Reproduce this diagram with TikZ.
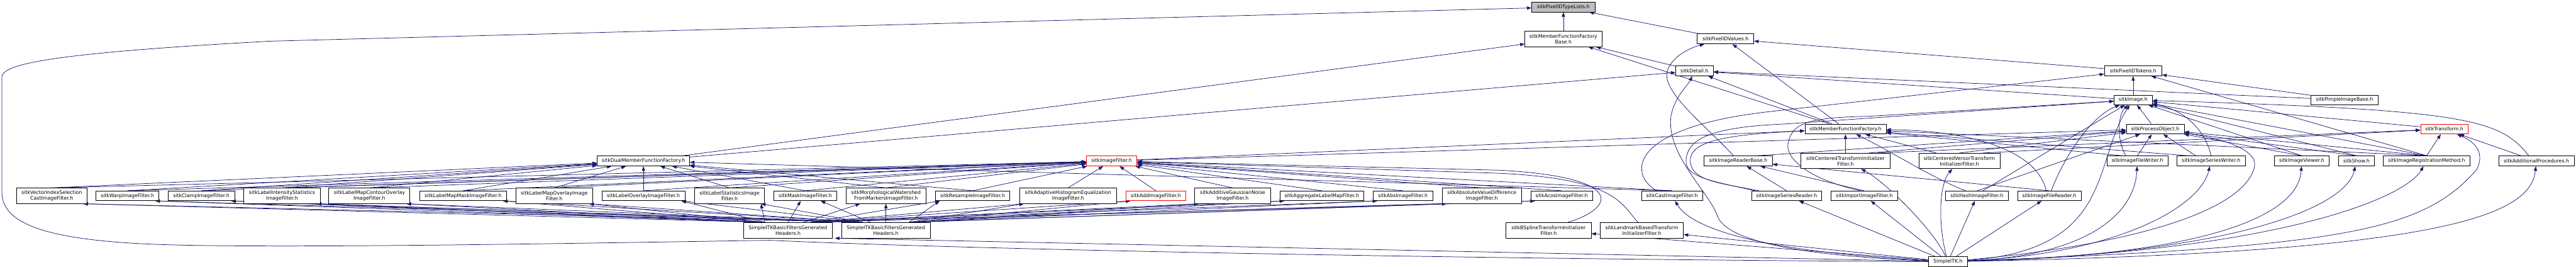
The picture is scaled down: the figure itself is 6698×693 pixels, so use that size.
\documentclass[tikz,border=0pt]{standalone}
\usepackage{fontspec}
\setmainfont{DejaVu Sans}
\usetikzlibrary{arrows.meta}
\definecolor{eblue}{HTML}{191970}
\definecolor{rootgray}{HTML}{BFBFBF}
\pgfdeclarelayer{bg}
\pgfsetlayers{bg,main}
\begin{document}
\begin{tikzpicture}[x=1bp,y=-1bp,
  nb/.style={draw=black,fill=white,rectangle,inner sep=0pt,align=center,line width=1.3bp,font=\fontsize{12.8bp}{14.8bp}\selectfont},
  rd/.style={draw=red},
  rt/.style={fill=rootgray},
  e/.style={draw=eblue,line width=1.2bp,-{Triangle[length=12bp,width=8.5bp]}}]
\useasboundingbox (0,0) rectangle (6698,693);
% rank 0-4
\node[nb,rt,minimum width=164bp,minimum height=25bp] (A1) at (4065,18.5) {sitkPixelIDTypeLists.h};
\node[nb,minimum width=200bp,minimum height=40bp] (B1) at (4065,101) {sitkMemberFunctionFactory\\Base.h};
\node[nb,minimum width=147bp,minimum height=26bp] (B2) at (4486.5,101) {sitkPixelIDValues.h};
\node[nb,minimum width=98bp,minimum height=26bp] (C1) at (4406,184) {sitkDetail.h};
\node[nb,minimum width=149bp,minimum height=26bp] (C2) at (5546.5,184) {sitkPixelIDTokens.h};
\node[nb,minimum width=99bp,minimum height=25bp] (D1) at (5546.5,259.5) {sitkImage.h};
\node[nb,minimum width=176bp,minimum height=25bp] (D2) at (6096,259.5) {sitkPimpleImageBase.h};
\node[nb,minimum width=211bp,minimum height=26bp] (E1) at (4798.5,335) {sitkMemberFunctionFactory.h};
\node[nb,minimum width=150bp,minimum height=26bp] (E2) at (5604,335) {sitkProcessObject.h};
\node[nb,rd,minimum width=123bp,minimum height=26bp] (E3) at (6355.5,335) {sitkTransform.h};
% rank 5
\node[nb,minimum width=240bp,minimum height=26bp] (F1) at (1673,418) {sitkDualMemberFunctionFactory.h};
\node[nb,rd,minimum width=131bp,minimum height=26bp] (F2) at (2890.5,418) {sitkImageFilter.h};
\node[nb,minimum width=177bp,minimum height=26bp] (F3) at (4519.5,418) {sitkImageReaderBase.h};
\node[nb,minimum width=231bp,minimum height=40bp] (F4) at (4798.5,418) {sitkCenteredTransformInitializer\\Filter.h};
\node[nb,minimum width=211bp,minimum height=40bp] (F5) at (5094.5,418) {sitkCenteredVersorTransform\\InitializerFilter.h};
\node[nb,minimum width=159bp,minimum height=26bp] (F6) at (5557.5,418) {sitkImageFileWriter.h};
\node[nb,minimum width=178bp,minimum height=26bp] (F7) at (5749,418) {sitkImageSeriesWriter.h};
\node[nb,minimum width=142bp,minimum height=26bp] (F8) at (5985,418) {sitkImageViewer.h};
\node[nb,minimum width=92bp,minimum height=26bp] (F9) at (6127,418) {sitkShow.h};
\node[nb,minimum width=225bp,minimum height=26bp] (F10) at (6309.5,418) {sitkImageRegistrationMethod.h};
\node[nb,minimum width=196bp,minimum height=26bp] (F11) at (6595,418) {sitkAdditionalProcedures.h};
% rank 6
\node[nb,minimum width=183bp,minimum height=40bp] (G1) at (134.5,508.5) {sitkVectorIndexSelection\\CastImageFilter.h};
\node[nb,minimum width=163bp,minimum height=25bp] (G2) at (331.5,508.5) {sitkWarpImageFilter.h};
\node[nb,minimum width=173bp,minimum height=25bp] (G3) at (523.5,508.5) {sitkClampImageFilter.h};
\node[nb,minimum width=199bp,minimum height=40bp] (G4) at (733.5,508.5) {sitkLabelIntensityStatistics\\ImageFilter.h};
\node[nb,minimum width=211bp,minimum height=40bp] (G5) at (960.5,508.5) {sitkLabelMapContourOverlay\\ImageFilter.h};
\node[nb,minimum width=226bp,minimum height=25bp] (G6) at (1204,508.5) {sitkLabelMapMaskImageFilter.h};
\node[nb,minimum width=200bp,minimum height=40bp] (G7) at (1441,508.5) {sitkLabelMapOverlayImage\\Filter.h};
\node[nb,minimum width=216bp,minimum height=25bp] (G8) at (1673,508.5) {sitkLabelOverlayImageFilter.h};
\node[nb,minimum width=182bp,minimum height=40bp] (G9) at (1897,508.5) {sitkLabelStatisticsImage\\Filter.h};
\node[nb,minimum width=164bp,minimum height=25bp] (G10) at (2094,508.5) {sitkMaskImageFilter.h};
\node[nb,minimum width=207bp,minimum height=40bp] (G11) at (2303.5,508.5) {sitkMorphologicalWatershed\\FromMarkersImageFilter.h};
\node[nb,minimum width=194bp,minimum height=25bp] (G12) at (2529,508.5) {sitkResampleImageFilter.h};
\node[nb,minimum width=252bp,minimum height=40bp] (G13) at (2777,508.5) {sitkAdaptiveHistogramEqualization\\ImageFilter.h};
\node[nb,rd,minimum width=155bp,minimum height=25bp] (G14) at (3005.5,508.5) {sitkAddImageFilter.h};
\node[nb,minimum width=198bp,minimum height=40bp] (G15) at (3205,508.5) {sitkAdditiveGaussianNoise\\ImageFilter.h};
\node[nb,minimum width=218bp,minimum height=25bp] (G16) at (3437,508.5) {sitkAggregateLabelMapFilter.h};
\node[nb,minimum width=155bp,minimum height=25bp] (G17) at (3647.5,508.5) {sitkAbsImageFilter.h};
\node[nb,minimum width=206bp,minimum height=40bp] (G18) at (3853,508.5) {sitkAbsoluteValueDifference\\ImageFilter.h};
\node[nb,minimum width=161bp,minimum height=25bp] (G19) at (4060.5,508.5) {sitkAcosImageFilter.h};
\node[nb,minimum width=159bp,minimum height=25bp] (G20) at (4347.5,508.5) {sitkCastImageFilter.h};
\node[nb,minimum width=183bp,minimum height=25bp] (G21) at (4645.5,508.5) {sitkImageSeriesReader.h};
\node[nb,minimum width=173bp,minimum height=25bp] (G22) at (4847.5,508.5) {sitkImportImageFilter.h};
\node[nb,minimum width=163bp,minimum height=25bp] (G23) at (5140.5,508.5) {sitkHashImageFilter.h};
\node[nb,minimum width=165bp,minimum height=25bp] (G24) at (5328.5,508.5) {sitkImageFileReader.h};
% rank 7
\node[nb,minimum width=230bp,minimum height=40bp] (H1) at (2049,598) {SimpleITKBasicFiltersGenerated\\Headers.h};
\node[nb,minimum width=231bp,minimum height=40bp] (H2) at (2303.5,598) {SimpleITKBasicFiltersGenerated\\Headers.h};
\node[nb,minimum width=221bp,minimum height=40bp] (H3) at (4026.5,598) {sitkBSplineTransformInitializer\\Filter.h};
\node[nb,minimum width=216bp,minimum height=40bp] (H4) at (4269,598) {sitkLandmarkBasedTransform\\InitializerFilter.h};
% rank 8
\node[nb,minimum width=100bp,minimum height=25bp] (I1) at (5065,679.5) {SimpleITK.h};

\begin{pgfonlayer}{bg}
\fill[white] (0,0) rectangle (6698,693);
% ranks 1-4
\draw[e] (B1) -- (A1);
\draw[e] (B2) -- (A1);
\draw[e] (C1) -- (B1);
\draw[e] (C2) -- (B2);
\draw[e] (D1) -- (C2);
\draw[e] (D1) -- (C1);
\draw[e] (D2) -- (C1);
\draw[e] (D2) -- (C2);
\draw[e] (E1) -- (B1);
\draw[e] (E1) -- (B2);
\draw[e] (E1) -- (C1);
\draw[e] (E2) -- (D1);
\draw[e] (E3) -- (D1);
% rank 5
\draw[e] (F1) -- (B1);
\draw[e] (F1) -- (C1);
\draw[e] (F2) -- (E1);
\draw[e] (F2) -- (E2);
\draw[e] (F3) .. controls (4440,330) and (4320,240) .. (4335,185) .. controls (4345,150) and (4390,125) .. (B2);
\draw[e] ([xshift=-40bp]F3.north east) -- (E2);
\draw[e] (F4.north) -- (E1);
\draw[e] ([xshift=60bp]F4.north) -- (E2);
\draw[e] ([xshift=80bp]F4.north) -- (E3);
\draw[e] ([xshift=-60bp]F5.north) -- (E1);
\draw[e] (F5.north) -- (E2);
\draw[e] ([xshift=60bp]F5.north) -- (E3);
\draw[e] ([xshift=-40bp]F6.north) -- (E1);
\draw[e] (F6.north) -- (E2);
\draw[e] ([xshift=-30bp]F6.north) .. controls (5505,370) and (5505,300) .. (D1);
\draw[e] ([xshift=-60bp]F7.north) -- (E1);
\draw[e] ([xshift=-40bp]F7.north) -- (E2);
\draw[e] (F7.north) .. controls (5740,360) and (5700,290) .. (D1);
\draw[e] (F8.north) -- (E2);
\draw[e] (F8.north) -- (D1);
\draw[e] (F9.north) -- (E2);
\draw[e] (F9.north) -- (D1);
\draw[e] (F10.north) -- (E1);
\draw[e] (F10.north) -- (E2);
\draw[e] (F10.north) -- (E3);
\draw[e] (F10.north) -- (D1);
\draw[e] (F10.north) -- (C2);
\draw[e] ([xshift=-40bp]F11.north) -- (E3);
\draw[e] ([xshift=-20bp]F11.north) .. controls (6500,310) and (6420,285) .. (D1);
% rank 6
\foreach \g in {G1,G2,G3,G4,G5,G6,G7,G8,G9,G10,G11,G12} {
  \draw[e] (\g.north) -- (F1);
  \draw[e] (\g.north) -- (F2);
}
\foreach \g in {G13,G14,G15,G16,G17,G18,G19} {
  \draw[e] (\g.north) -- (F2);
}
\draw[e] (G20.north) -- (F1);
\draw[e] (G20.north) -- (F2);
\draw[e] ([xshift=-40bp]G20.north) .. controls (4230,450) and (4240,330) .. (4600,290) -- (C2);
\draw[e] (G21.north) -- (F3);
\draw[e] ([xshift=10bp]G21.north west) .. controls (4450,470) and (4380,460) .. (4384,415) .. controls (4388,360) and (4450,330) .. (4640,322) -- (D1);
\draw[e] ([xshift=20bp]G21.north west) .. controls (4470,475) and (4400,470) .. (4395,420) .. controls (4392,370) and (4470,350) .. (E1);
\draw[e] (G22.north) -- (F3);
\draw[e] ([xshift=-10bp]G22.north) .. controls (4680,460) and (4640,400) .. (4650,370) .. controls (4660,320) and (4700,305) .. (4860,302) -- (D1);
\draw[e] ([xshift=-30bp]G23.north) .. controls (5020,460) and (4930,400) .. (E1);
\draw[e] (G23.north) -- (E2);
\draw[e] ([xshift=15bp]G23.north) -- (D1);
\draw[e] (G24.north) -- (F3);
\draw[e] ([xshift=5bp]G24.north) .. controls (5370,400) and (5440,300) .. (D1);
\draw[e] ([xshift=-8bp]G24.north) .. controls (5300,400) and (5150,340) .. (E1);
% rank 7
\foreach \g in {G1,G2,G3,G4,G5,G6,G7,G8,G9} {
  \draw[e] ([xshift=-60bp]H1.north) -- ([xshift=-10bp]\g.south east);
  \draw[e] ([xshift=-60bp]H2.north) -- ([xshift=-10bp]\g.south east);
}
\draw[e] (H1.north) -- ([xshift=-12bp]G10.south);
\draw[e] ([xshift=-40bp]H2.north) -- ([xshift=40bp]G10.south);
\draw[e] ([xshift=40bp]H1.north) -- ([xshift=-67bp]G11.south);
\draw[e] (H2.north) -- (G11.south);
\foreach \g in {G12,G13,G14,G15,G16,G17,G18,G19} {
  \draw[e] ([xshift=60bp]H1.north) -- ([xshift=12bp]\g.south west);
  \draw[e] ([xshift=60bp]H2.north) -- ([xshift=12bp]\g.south west);
}
\draw[e] ([xshift=50bp]H3.north) .. controls (4200,540) and (4230,460) .. (3900,442) -- (F2);
\draw[e] ([xshift=-10bp]H4.north) .. controls (4215,530) and (4205,465) .. (3900,450) -- (F2);
% rank 8: SimpleITK.h
\draw[e] (I1) .. controls (4200,676) and (2700,655) .. (2000,624) .. controls (1600,630) and (800,645) .. (450,636) .. controls (150,628) and (5,590) .. (5,500) -- (5,200) .. controls (5,160) and (200,135) .. (700,107) -- (A1);
\draw[e] (I1) -- ([xshift=6bp]H1.south east);
\draw[e] (I1) -- (H3);
\draw[e] (I1) -- (H4);
\draw[e] (I1) .. controls (4520,650) and (4390,580) .. (G20);
\draw[e] (I1) .. controls (4700,665) and (4490,630) .. (4465,560) .. controls (4445,500) and (4330,400) .. (4345,300) .. controls (4355,250) and (4390,220) .. (C1);
\draw[e] (I1) -- (G21);
\draw[e] (I1) -- (G22);
\draw[e] (I1) -- (G23);
\draw[e] (I1) -- (G24);
\draw[e] (I1) .. controls (5030,600) and (4900,470) .. (F4);
\draw[e] (I1) .. controls (5040,590) and (5040,480) .. (F5);
\draw[e] (I1) .. controls (5500,650) and (5440,420) .. (D1);
\draw[e] (I1) .. controls (5500,640) and (5820,560) .. (5860,440) .. controls (5880,390) and (5780,360) .. (E2);
\draw[e] (I1) .. controls (5420,665) and (5550,560) .. (F6);
\draw[e] (I1) .. controls (5500,660) and (5720,540) .. (F7);
\draw[e] (I1) .. controls (5700,665) and (5975,570) .. (F8);
\draw[e] (I1) .. controls (5800,660) and (6100,540) .. (F9);
\draw[e] (I1) .. controls (5900,655) and (6250,520) .. (F10);
\draw[e] (I1) .. controls (6100,640) and (6300,600) .. (6440,440) .. controls (6460,400) and (6440,370) .. (E3);
\draw[e] (I1) .. controls (6350,655) and (6580,560) .. (F11);
\end{pgfonlayer}
\end{tikzpicture}
\end{document}
